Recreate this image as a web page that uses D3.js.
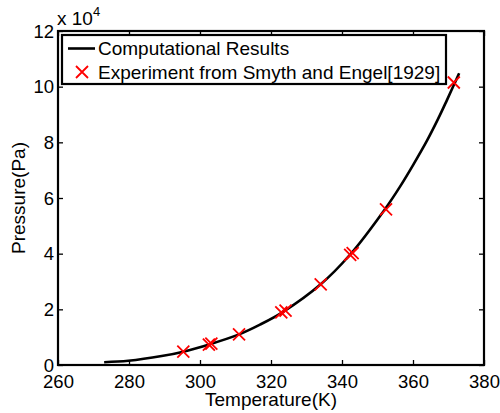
<!DOCTYPE html>
<html>
<head>
<meta charset="utf-8">
<script src="https://cdn.jsdelivr.net/npm/d3@7"></script>
<style>
  html, body { margin: 0; padding: 0; background: #fff; }
  svg { display: block; }
  text { font-family: "Liberation Sans", Arial, Helvetica, sans-serif; fill: #000; }
</style>
</head>
<body>
<svg id="chart" width="500" height="413"></svg>
<script>
// Computed vapour-pressure curve (temperature in K, pressure in Pa)
const curveT = [273.0, 279.8, 289.2, 295.3, 302.6, 311.0, 316.9, 323.3, 334.0, 342.3, 352.1, 356.3, 360.1, 363.9, 367.1, 369.5, 371.4, 373.0];
const curveP = [1000, 1500, 3200, 4800, 7400, 11000, 14500, 19000, 29000, 39700, 56000, 64000, 72000, 80500, 88500, 95000, 100300, 104800];

// Experimental points, Smyth and Engel [1929]
const expT = [295.3, 302.5, 303.2, 311.0, 322.9, 324.1, 334.0, 342.3, 343.0, 352.4, 371.5];
const expP = [4800, 7300, 7700, 11000, 18900, 19500, 29000, 39600, 40200, 55900, 101500];

// Axis ticks
const xTicks = [260, 280, 300, 320, 340, 360, 380];
const yTicks = [0, 20000, 40000, 60000, 80000, 100000, 120000];

const legendLabels = ["Computational Results", "Experiment from Smyth and Engel[1929]"];

const svg = d3.select("#chart");
const L = 58, R = 484, T = 31, B = 365;
const fs = 19, tfs = 18.5;

const x = d3.scaleLinear().domain([260, 380]).range([L, R]);
const y = d3.scaleLinear().domain([0, 120000]).range([B, T]);

// Tick marks pointing inward on all four sides
const axB = d3.axisBottom(x).tickValues(xTicks).tickSizeInner(-5).tickSizeOuter(0).tickFormat(d3.format("d"));
const axT = d3.axisTop(x).tickValues(xTicks).tickSizeInner(-5).tickSizeOuter(0).tickFormat("");
const axLft = d3.axisLeft(y).tickValues(yTicks).tickSizeInner(-5).tickSizeOuter(0).tickFormat(d => d / 1e4);
const axRt = d3.axisRight(y).tickValues(yTicks).tickSizeInner(-5).tickSizeOuter(0).tickFormat("");

function styleAxis(g) {
  g.select(".domain").remove();
  g.selectAll(".tick line").attr("stroke", "#000").attr("stroke-width", 1.3);
  g.selectAll(".tick text").attr("font-size", tfs).attr("font-family", "Liberation Sans, Arial, sans-serif").attr("fill", "#000");
}

svg.append("g").attr("transform", `translate(0,${B})`).call(axB).call(styleAxis)
  .selectAll(".tick text").attr("y", 22.5).attr("dy", null);
svg.append("g").attr("transform", `translate(0,${T})`).call(axT).call(styleAxis);
svg.append("g").attr("transform", `translate(${L},0)`).call(axLft).call(styleAxis)
  .selectAll(".tick text").attr("x", -4).attr("dy", "0.34em");
svg.append("g").attr("transform", `translate(${R},0)`).call(axRt).call(styleAxis);

// Frame
svg.append("rect")
  .attr("x", L).attr("y", T).attr("width", R - L).attr("height", B - T)
  .attr("fill", "none").attr("stroke", "#000").attr("stroke-width", 2.2);

// Computed curve
const pts = curveT.map((t, i) => [t, curveP[i]]);
svg.append("path")
  .datum(pts)
  .attr("fill", "none")
  .attr("stroke", "#000")
  .attr("stroke-width", 2.6)
  .attr("d", d3.line().x(d => x(d[0])).y(d => y(d[1])).curve(d3.curveCatmullRom.alpha(0.5)));

// Experimental markers (red crosses)
const m = 6;
const crosses = svg.append("g").attr("stroke", "#ff0000").attr("stroke-width", 1.8).attr("fill", "none");
expT.forEach((t, i) => {
  const cx = x(t), cy = y(expP[i]);
  crosses.append("path").attr("d", `M${cx - m},${cy - m}L${cx + m},${cy + m}M${cx - m},${cy + m}L${cx + m},${cy - m}`);
});

// Exponent label
const ex = svg.append("text").attr("x", 57).attr("y", 25).attr("font-size", fs);
ex.append("tspan").text("x 10");
ex.append("tspan").attr("font-size", 13).attr("dy", -9).text("4");

// Axis titles
svg.append("text").attr("x", (L + R) / 2).attr("y", 405.5).attr("text-anchor", "middle").attr("font-size", fs).text("Temperature(K)");
svg.append("text").attr("transform", `translate(25,${(T + B) / 2}) rotate(-90)`).attr("text-anchor", "middle").attr("font-size", fs).text("Pressure(Pa)");

// Legend
const lg = svg.append("g");
lg.append("rect").attr("x", 62).attr("y", 35).attr("width", 384).attr("height", 49)
  .attr("fill", "#fff").attr("stroke", "#000").attr("stroke-width", 2.2);
lg.append("line").attr("x1", 68).attr("x2", 95).attr("y1", 48.5).attr("y2", 48.5).attr("stroke", "#000").attr("stroke-width", 2.6);
lg.append("text").attr("x", 98).attr("y", 55).attr("font-size", fs).text(legendLabels[0]);
const lx = 82, ly = 72;
lg.append("path").attr("d", `M${lx - m},${ly - m}L${lx + m},${ly + m}M${lx - m},${ly + m}L${lx + m},${ly - m}`)
  .attr("stroke", "#ff0000").attr("stroke-width", 1.8);
lg.append("text").attr("x", 98).attr("y", 79).attr("font-size", fs).text(legendLabels[1]);
</script>
</body>
</html>
